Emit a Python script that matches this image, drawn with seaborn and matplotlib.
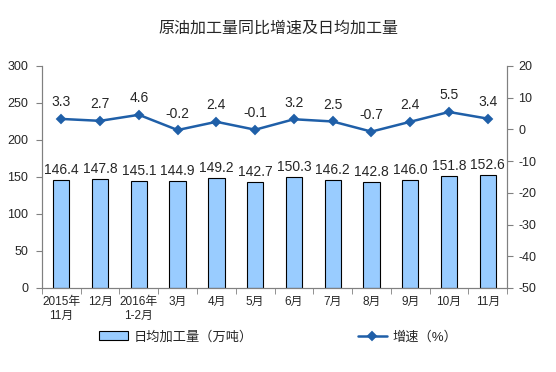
import matplotlib
matplotlib.use("Agg")
import matplotlib.pyplot as plt
import seaborn as sns
import pandas as pd

# 数据
meses = ["2015年\n11月", "12月", "2016年\n1-2月", "3月", "4月", "5月",
         "6月", "7月", "8月", "9月", "10月", "11月"]
jiagong = [146.4, 147.8, 145.1, 144.9, 149.2, 142.7, 150.3, 146.2, 142.8, 146.0, 151.8, 152.6]
zengsu = [3.3, 2.7, 4.6, -0.2, 2.4, -0.1, 3.2, 2.5, -0.7, 2.4, 5.5, 3.4]

df = pd.DataFrame({"mes": meses, "jiagong": jiagong, "zengsu": zengsu})

sns.set_style("white")
plt.rcParams['font.family'] = ['Liberation Sans', 'Noto Sans CJK SC', 'DejaVu Sans']
plt.rcParams['axes.unicode_minus'] = False

fig = plt.figure(figsize=(5.56, 3.72), dpi=100)
ax = fig.add_axes([0.0755, 0.226, 0.8365, 0.5966])

sns.barplot(data=df, x="mes", y="jiagong", ax=ax, color="#99CCFF",
            edgecolor="black", linewidth=0.8, width=0.42, saturation=1,
            label="日均加工量（万吨）")
ax.set_ylim(0, 300)
ax.set_yticks(range(0, 301, 50))
ax.set_xlabel("")
ax.set_ylabel("")

ax2 = ax.twinx()
sns.pointplot(data=df, x="mes", y="zengsu", ax=ax2, color="#1F5FA8",
              markers="D", markersize=4, linewidth=1.8,
              label="增速（%）")
ax2.set_ylim(-50, 20)
ax2.set_yticks(range(-50, 21, 10))
ax2.set_ylabel("")
ax2.set_xlabel("")
ax.set_xlim(-0.5, 11.5)
ax2.set_xlim(-0.5, 11.5)

h1, l1 = ax.get_legend_handles_labels()
h2, l2 = ax2.get_legend_handles_labels()
for a in (ax, ax2):
    if a.get_legend() is not None:
        a.get_legend().remove()

for i, v in enumerate(jiagong):
    ax.text(i, v + 4, f"{v:.1f}", ha="center", va="bottom", fontsize=10)
for i, v in enumerate(zengsu):
    ax2.text(i, v + 3.0, f"{v:.1f}", ha="center", va="bottom", fontsize=10)

for a in (ax, ax2):
    for s in a.spines.values():
        s.set_color("#808080")
    a.spines["top"].set_visible(False)
ax.tick_params(axis="y", labelsize=9, length=4, color="#808080", left=True, pad=6)
ax2.tick_params(axis="y", labelsize=9, length=4, color="#808080", right=True, pad=4)
ax.tick_params(axis="x", labelsize=8.5, length=0, pad=6)
ax.set_xticks([x + 0.5 for x in range(-1, 12)], minor=True)
ax.tick_params(axis="x", which="minor", length=4, color="#808080", bottom=True)

fig.suptitle("原油加工量同比增速及日均加工量", y=0.945, fontsize=11.5)

fig.legend(h1 + h2, l1 + l2, loc="lower center", bbox_to_anchor=(0.5, 0.045),
           ncol=2, frameon=False, fontsize=9.5, columnspacing=8,
           handlelength=2.2, handletextpad=0.4)

fig.savefig("out.png", dpi=100)
